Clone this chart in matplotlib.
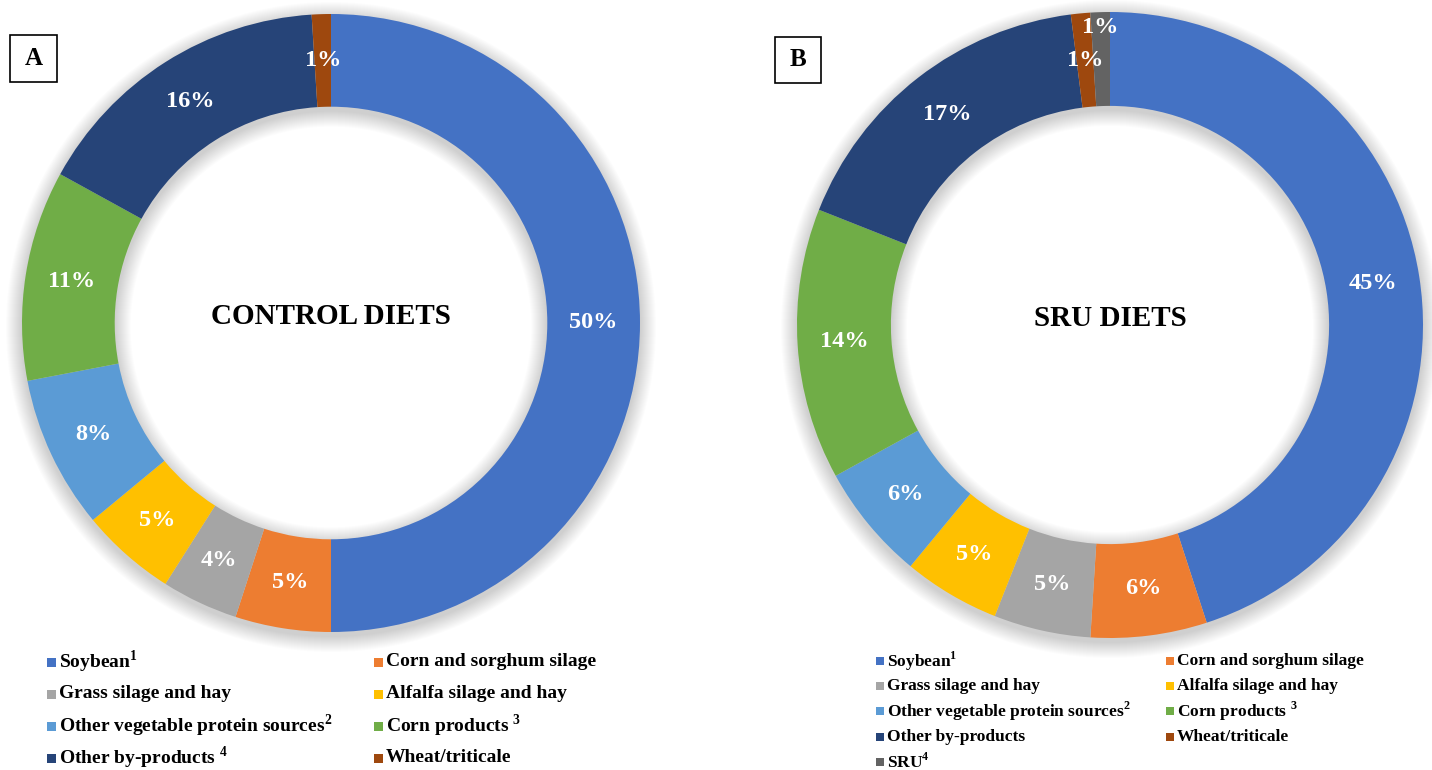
import matplotlib.pyplot as plt
from matplotlib.patches import Wedge, Rectangle

plt.rcParams['font.family'] = ['Liberation Serif', 'DejaVu Serif']
plt.rcParams['mathtext.fontset'] = 'custom'
plt.rcParams['mathtext.bf'] = 'Liberation Serif:bold'
plt.rcParams['mathtext.rm'] = 'Liberation Serif:bold'

# categories (clockwise from the top)
cats_a = ['Soybean', 'Corn and sorghum silage', 'Grass silage and hay', 'Alfalfa silage and hay',
          'Other vegetable protein sources', 'Corn products', 'Other by-products', 'Wheat/triticale']
cats_b = cats_a + ['SRU']
sup_a = ['1', '', '', '', '2', ' 3', ' 4', '']
sup_b = ['1', '', '', '', '2', ' 3', '', '', '4']

# shares (%)
control = [50, 5, 4, 5, 8, 11, 16, 1]
sru = [45, 6, 5, 5, 6, 14, 17, 1, 1]

colors = ['#4472C4', '#ED7D31', '#A5A5A5', '#FFC000', '#5B9BD5', '#70AD47', '#264478', '#9E480E', '#636363']

fig = plt.figure(figsize=(14.32, 7.7), dpi=100)
ax = fig.add_axes([0, 0, 1, 1])


def donut(vals, cx, cy, R, title):
    w = 0.30 * R
    # soft shadow
    for k in range(16, 0, -1):
        ax.add_patch(Wedge((cx, cy - 4), R + k, 0, 360, width=w + 2 * k,
                           facecolor='black', edgecolor='none', alpha=0.011, zorder=1))
    wedges, txt, pct = ax.pie(vals, colors=colors[:len(vals)], startangle=90, counterclock=False,
                              center=(cx, cy), radius=R, autopct='%.0f%%', pctdistance=0.85,
                              wedgeprops=dict(width=w, edgecolor='none'),
                              textprops=dict(color='white', fontsize=17.5, fontweight='bold'))
    for wd in wedges:
        wd.set_zorder(3)
    for t in pct:
        t.set_zorder(4)
    ax.text(cx, cy + 6, title, ha='center', va='center', fontsize=21, fontweight='bold', zorder=4)
    return pct


donut(control, 331, 447, 309, 'CONTROL DIETS')
pct_b = donut(sru, 1110, 445, 313, 'SRU DIETS')
# SRU label sits further out
x, y = pct_b[-1].get_position()
pct_b[-1].set_position((1110 + (x - 1110) * 0.95 / 0.85, 445 + (y - 445) * 0.95 / 0.85))

ax.set_xlim(0, 1432)
ax.set_ylim(0, 770)
ax.set_aspect('equal')
ax.axis('off')

# panel letters
for bx, by, s, lt in [(10, 688, 47, 'A'), (775, 687, 46, 'B')]:
    ax.add_patch(Rectangle((bx, by), s, s, fill=False, edgecolor='black', lw=1.2, zorder=5))
    ax.text(bx + s / 2, by + s / 2, lt, ha='center', va='center', fontsize=18, fontweight='bold', zorder=5)


def legend(cats, sups, x0, x1, y0, dy, fs, msz):
    for i, c in enumerate(cats):
        col, row = i % 2, i // 2
        x = x0 if col == 0 else x1
        y = 770 - (y0 + row * dy)
        ax.add_patch(Rectangle((x, y - msz / 2), msz, msz, facecolor=colors[i], edgecolor='none', zorder=5))
        lab = c
        if sups[i]:
            lab = c + (' ' if sups[i][0] == ' ' else '') + r'$^{\mathbf{' + sups[i].strip() + '}}$'
        ax.text(x + msz + 3, y, lab, ha='left', va='center', fontsize=fs, fontweight='bold', zorder=5)


legend(cats_a, sup_a, 47, 374, 662, 32, 14, 9)
legend(cats_b, sup_b, 876, 1166, 661, 25.2, 12.5, 8)

fig.savefig('out.png', dpi=100)
